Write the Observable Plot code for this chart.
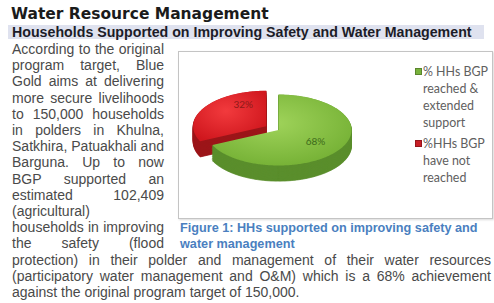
<!DOCTYPE html>
<html><head><meta charset="utf-8">
<script src="https://cdn.jsdelivr.net/npm/d3@7"></script>
<script src="https://cdn.jsdelivr.net/npm/@observablehq/plot@0.6"></script>
<style>
html,body{margin:0;padding:0;background:#fff;}
#page{position:relative;width:494px;height:303px;overflow:hidden;background:#fff;font-family:"Liberation Sans",Arial,sans-serif;}
.abs{position:absolute;white-space:nowrap;}
#title{left:11px;top:5px;font-family:"DejaVu Sans";font-weight:bold;font-size:15.5px;color:#1b1b1b;line-height:18px}
#bar{left:8px;top:25px;width:476px;height:14px;background:#dfe2ef}
#sub{left:12px;top:25px;font-family:"Liberation Sans",Arial;font-weight:bold;font-size:13px;color:#1c1c28;line-height:14px}
.body{font-size:13px;color:#4a4a4a;line-height:16px;left:12px}
#box{left:178px;top:51px;width:313px;height:166px;border:1px solid #c4c4c4;box-shadow:1px 1px 2px rgba(0,0,0,0.15);background:#fff}
.cap{font-family:"Liberation Sans";font-weight:bold;font-size:11px;color:#4a7fc0;line-height:16px;left:180px}
.leg{font-family:Lato;font-size:12px;color:#606060;line-height:16px;left:423px}
.sw{width:7px;height:7px;left:414px;box-shadow:inset 0 0 0 1px rgba(0,0,0,0.25)}
#chart{position:absolute;left:178px;top:51px}
</style>
</head><body>
<div id="page"></div>
<script>
// ---- data ----
const categories = ["% HHs BGP reached & extended support", "%HHs BGP have not reached"];
const shares = [68, 32];
const shareLabels = ["68%", "32%"];
const legendLines = [["% HHs BGP", "reached &", "extended", "support"], ["%HHs BGP", "have not", "reached"]];
const titleText = "Water Resource Management";
const subText = "Households Supported on Improving Safety and Water Management";
const captionLines = ["Figure 1: HHs supported on improving safety and", "water management"];
const bodyLines = [
  "According to the original",
  "program target, Blue",
  "Gold aims at delivering",
  "more secure livelihoods",
  "to 150,000 households",
  "in polders in Khulna,",
  "Satkhira, Patuakhali and",
  "Barguna. Up to now",
  "BGP supported an",
  "estimated 102,409",
  "(agricultural)",
  "households in improving",
  "the safety (flood",
  "protection) in their polder and management of their water resources",
  "(participatory water management and O&M) which is a 68% achievement",
  "against the original program target of 150,000."
];

// ---- styles ----
const faceColors = [["#9fd35a", "#74b034"], ["#f23a3d", "#cf161d"]];
const sideColors = ["#5a8e2c", "#9c1519"];
const labelColors = ["#3d6a1a", "#8e1a18"];
const legendColors = ["#78b23c", "#c81e26"];

const page = document.getElementById("page");
function add(cls, id, text, left, top) {
  const d = document.createElement("div");
  d.className = "abs " + cls;
  if (id) d.id = id;
  d.textContent = text;
  if (left != null) d.style.left = left + "px";
  if (top != null) d.style.top = top + "px";
  page.appendChild(d);
  return d;
}
function fit(el, target) {
  el.style.display = "inline-block";
  const w = el.getBoundingClientRect().width;
  const fs = parseFloat(getComputedStyle(el).fontSize);
  el.style.fontSize = (fs * target / w) + "px";
}
function justify(el, target) {
  el.style.display = "inline-block";
  const w = el.getBoundingClientRect().width;
  const n = (el.textContent.match(/ /g) || []).length;
  if (n > 0) el.style.wordSpacing = ((target - w) / n) + "px";
}

add("", "bar", "");
const t = add("", "title", titleText); fit(t, 258);
const s = add("", "sub", subText); fit(s, 460);
add("", "box", "");

// body text
const bodyEls = bodyLines.map((txt, i) => add("body", null, txt, 12, Math.round(49 + 16.2 * i - 8)));
fit(bodyEls[15], 288);
const bfs = bodyEls[15].style.fontSize;
bodyEls.forEach((el, i) => {
  el.style.fontSize = bfs;
  if (i === 10 || i === 15) return;
  justify(el, i >= 13 ? 479 : 152);
});

// caption
const c1 = add("cap", null, captionLines[0], 180, 228 - 8); fit(c1, 298);
const c2 = add("cap", null, captionLines[1], 180, 244 - 8); c2.style.fontSize = c1.style.fontSize;

// legend
const legTops = [[72, 89, 106, 123], [144, 161, 178]];
let legFs = null;
legendLines.forEach((lines, i) => {
  const sw = add("sw", null, "", 415, legTops[i][0] - 4);
  sw.style.background = legendColors[i];
  lines.forEach((ln, j) => {
    const el = add("leg", null, ln, 423, legTops[i][j] - 8);
    if (legFs == null) { fit(el, 65); legFs = el.style.fontSize; } else el.style.fontSize = legFs;
  });
});

// ---- 3D pie via Plot ----
const arcs = d3.pie().sort(null)(shares);
const explode = [0, 0.2];
const depth = 0.44;
function slicePts(arc, i, yOff, key) {
  const mid = (arc.startAngle + arc.endAngle) / 2;
  const ox = explode[i] * Math.sin(mid), oy = -explode[i] * Math.cos(mid);
  const pts = [{x: ox, y: oy + yOff, k: key}];
  const n = Math.ceil((arc.endAngle - arc.startAngle) / (Math.PI / 180));
  for (let j = 0; j <= n; j++) {
    const a = arc.startAngle + (arc.endAngle - arc.startAngle) * j / n;
    pts.push({x: ox + Math.sin(a), y: oy - Math.cos(a) + yOff, k: key});
  }
  return pts;
}
const sides = arcs.map((arc, i) => {
  let pts = [];
  for (let l = depth, m = 0; l > 0.001; l -= 0.02, m++) pts = pts.concat(slicePts(arc, i, l, i + "-" + m));
  return pts;
});
const tops = arcs.map((arc, i) => slicePts(arc, i, 0, "top" + i));
const labels = arcs.map((arc, i) => {
  const mid = (arc.startAngle + arc.endAngle) / 2;
  const r = 0.6 + explode[i];
  return {x: r * Math.sin(mid), y: -r * Math.cos(mid), text: shareLabels[i], i};
});

const marks = [];
[1, 0].forEach(i => {
  marks.push(Plot.line(sides[i], {x: "x", y: "y", z: "k", fill: sideColors[i], stroke: sideColors[i], strokeWidth: 0.8}));
  marks.push(Plot.line(tops[i], {x: "x", y: "y", z: "k", fill: `url(#face${i})`, stroke: "none"}));
});
marks.push(Plot.text(labels.filter(d => d.i === 0), {x: "x", y: "y", text: "text", fill: labelColors[0], fontSize: 10, fontFamily: "Lato"}));
marks.push(Plot.text(labels.filter(d => d.i === 1), {x: "x", y: "y", text: "text", fill: labelColors[1], fontSize: 10, fontFamily: "Lato", dx: 14, dy: -10}));

const svg = Plot.plot({
  width: 314, height: 167, margin: 0,
  x: {domain: [-1, 1], range: [27, 173], axis: null},
  y: {domain: [-1, 1], range: [43, 114], axis: null},
  style: {background: "transparent"},
  marks
});
svg.id = "chart";
const defs = d3.select(svg).insert("defs", ":first-child");
faceColors.forEach((cols, i) => {
  const g = defs.append("radialGradient").attr("id", "face" + i).attr("cx", "45%").attr("cy", "40%").attr("r", "65%");
  g.append("stop").attr("offset", "0%").attr("stop-color", cols[0]);
  g.append("stop").attr("offset", "100%").attr("stop-color", cols[1]);
});
page.appendChild(svg);
</script>
</body></html>
